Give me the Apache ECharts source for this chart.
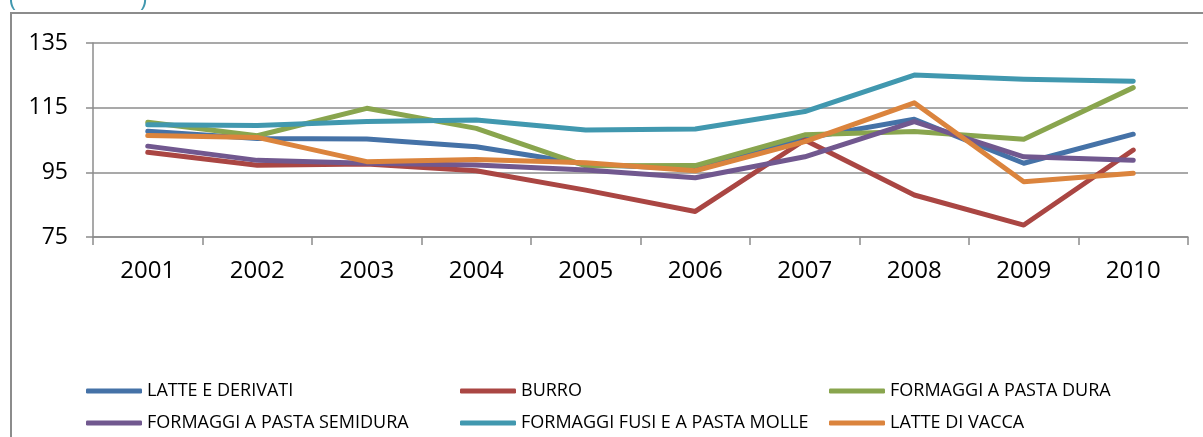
<!DOCTYPE html>
<html>
<head>
<meta charset="utf-8">
<script src="https://cdn.jsdelivr.net/npm/echarts@6/dist/echarts.min.js"></script>
<style>
html, body { margin: 0; padding: 0; background: #fff; }
#chart { width: 1203px; height: 437px; }
</style>
</head>
<body>
<div id="chart"></div>
<script>
var years = ['2001', '2002', '2003', '2004', '2005', '2006', '2007', '2008', '2009', '2010'];
var yTicks = [75, 95, 115, 135];

var latteDerivati = [107.7, 105.5, 105.3, 102.9, 97.5, 96.0, 105.5, 111.4, 97.8, 106.8];
var burro = [101.2, 97.2, 97.6, 95.5, 89.5, 82.9, 105.0, 88.0, 78.7, 101.9];
var pastaDura = [110.5, 106.3, 114.8, 108.6, 97.0, 97.1, 106.6, 107.6, 105.2, 121.2];
var pastaSemidura = [103.1, 98.7, 97.8, 97.3, 95.7, 93.3, 99.8, 110.7, 99.8, 98.7];
var fusiMolle = [109.7, 109.5, 110.7, 111.2, 108.1, 108.4, 113.8, 125.1, 123.8, 123.2];
var latteVacca = [106.4, 105.8, 98.3, 99.0, 98.0, 95.5, 104.5, 116.5, 92.1, 94.7];

var names = ['LATTE E DERIVATI', 'BURRO', 'FORMAGGI A PASTA DURA',
	'FORMAGGI A PASTA SEMIDURA', 'FORMAGGI FUSI E A PASTA MOLLE', 'LATTE DI VACCA'];
var colors = ['#4572A7', '#AA4643', '#89A54E', '#71588F', '#4198AF', '#DB843D'];
var values = [latteDerivati, burro, pastaDura, pastaSemidura, fusiMolle, latteVacca];

var font = '"Open Sans", Lato, sans-serif';
var myChart = echarts.init(document.getElementById('chart'));

// one legend per entry, excel puts them in a 3x2 grid with uneven columns
var legendLefts = [86, 460, 829];
var legendTops = [381, 413];

function legendItem(i) {
	return {
		left: legendLefts[i % 3],
		top: legendTops[Math.floor(i / 3)],
		padding: 0,
		itemWidth: 56,
		itemHeight: 5,
		itemGap: 0,
		itemTextGap: 3,
		icon: 'roundRect',
		selectedMode: false,
		data: [names[i]],
		textStyle: { fontFamily: font, fontSize: 18, color: '#000', lineHeight: 20 }
	};
}

var series = [];
var legends = [];
for (var i = 0; i < names.length; i++) {
	series.push({
		name: names[i],
		type: 'line',
		data: values[i],
		symbol: 'none',
		color: colors[i],
		lineStyle: { width: 5, color: colors[i], cap: 'round', join: 'round' },
		animation: false
	});
	legends.push(legendItem(i));
}

var option = {
	animation: false,
	grid: { left: 93, right: 15, top: 43, bottom: 200 },
	graphic: [
		{
			type: 'rect',
			shape: { x: 11, y: 13, width: 1300, height: 500 },
			style: { fill: 'none', stroke: '#8c8c8c', lineWidth: 2 }
		},
		// clipped title above the frame, only the brackets show
		{
			type: 'text', left: 9, top: -13,
			style: { text: '(', fill: '#4198AF', font: '24px ' + font }
		},
		{
			type: 'text', left: 140, top: -13,
			style: { text: ')', fill: '#4198AF', font: '24px ' + font }
		}
	],
	legend: legends,
	xAxis: {
		type: 'category',
		data: years,
		boundaryGap: true,
		axisLine: { lineStyle: { color: '#8c8c8c', width: 1.5 } },
		axisTick: { show: true, length: 8, lineStyle: { color: '#8c8c8c', width: 1.5 } },
		axisLabel: { margin: 22, fontFamily: font, fontSize: 24, color: '#000' }
	},
	yAxis: {
		type: 'value',
		min: yTicks[0],
		max: yTicks[yTicks.length - 1],
		interval: 20,
		axisLine: { show: true, lineStyle: { color: '#8c8c8c', width: 1.5 } },
		axisTick: { show: true, length: 7, lineStyle: { color: '#8c8c8c', width: 1.5 } },
		axisLabel: { margin: 25, fontFamily: font, fontSize: 23, color: '#000' },
		splitLine: { lineStyle: { color: '#8c8c8c', width: 1.5 } }
	},
	series: series
};

myChart.setOption(option);
</script>
</body>
</html>
